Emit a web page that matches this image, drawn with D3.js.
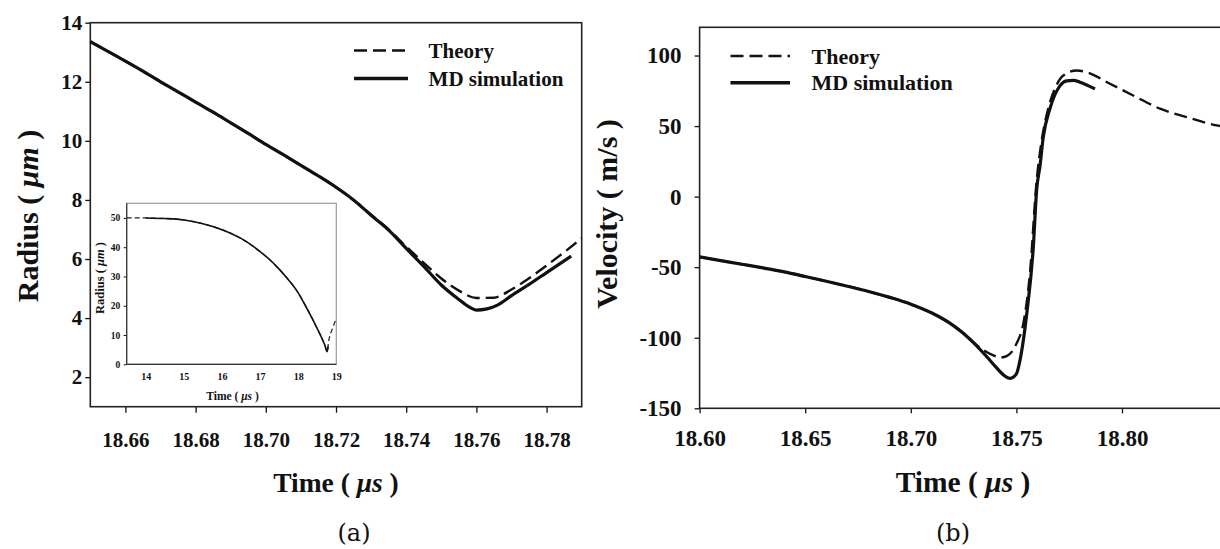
<!DOCTYPE html>
<html><head><meta charset="utf-8">
<script src="https://cdn.jsdelivr.net/npm/d3@7"></script>
<style>
html,body{margin:0;padding:0;background:#fff;overflow:hidden}
svg{display:block}
</style></head><body>
<svg id="fig" width="1220" height="549"></svg>
<script>
// Bubble collapse: (a) radius and (b) wall velocity against time,
// theory (dashed) versus molecular-dynamics simulation (solid).

// ---------- (a) radius near the minimum ----------
const radiusTimeTicks = [18.66, 18.68, 18.70, 18.72, 18.74, 18.76, 18.78];
const radiusTicks = [2, 4, 6, 8, 10, 12, 14];
const radiusMD = [
  [18.650, 13.36], [18.655, 13.03], [18.660, 12.70], [18.665, 12.36], [18.670, 12.00],
  [18.675, 11.66], [18.680, 11.31], [18.685, 10.97], [18.690, 10.61], [18.695, 10.25],
  [18.700, 9.88], [18.705, 9.53], [18.710, 9.17], [18.715, 8.81], [18.720, 8.43],
  [18.725, 8.00], [18.730, 7.48], [18.735, 6.98], [18.740, 6.36], [18.745, 5.75],
  [18.750, 5.12], [18.755, 4.63], [18.758, 4.37], [18.760, 4.27], [18.763, 4.31],
  [18.766, 4.44], [18.770, 4.76], [18.775, 5.14], [18.780, 5.54], [18.787, 6.10]
];
const radiusTheory = [
  [18.650, 13.36], [18.660, 12.70], [18.670, 12.00], [18.680, 11.31], [18.690, 10.61],
  [18.700, 9.88], [18.710, 9.17], [18.720, 8.43], [18.725, 8.00], [18.730, 7.50],
  [18.735, 7.00], [18.740, 6.42], [18.745, 5.87], [18.750, 5.34], [18.755, 4.93],
  [18.760, 4.68], [18.765, 4.69], [18.770, 4.97], [18.775, 5.35], [18.780, 5.78],
  [18.785, 6.23], [18.790, 6.70]
];

// ---------- inset: whole collapse ----------
const insetTimeTicks = [14, 15, 16, 17, 18, 19];
const insetRadiusTicks = [0, 10, 20, 30, 40, 50];
const insetMD = [
  [14.0, 50.0], [14.5, 49.8], [15.0, 49.3], [15.5, 48.0], [16.0, 46.0], [16.5, 43.0],
  [16.85, 40.0], [17.0, 38.5], [17.25, 35.8], [17.5, 32.5], [17.67, 30.0], [17.9, 26.3],
  [18.0, 24.4], [18.19, 20.0], [18.4, 14.8], [18.59, 9.8], [18.7, 6.5], [18.76, 4.3],
  [18.787, 6.1]
];
const insetTheory = [
  [13.5, 50.0], [14.0, 50.0], [14.5, 49.8], [15.0, 49.3], [15.5, 48.0], [16.0, 46.0],
  [16.5, 43.0], [17.0, 38.5], [17.5, 32.5], [18.0, 24.4], [18.4, 14.8], [18.7, 6.5],
  [18.76, 4.6], [18.8, 8.0], [18.9, 12.2], [19.0, 15.7]
];

// ---------- (b) velocity ----------
const velocityTimeTicks = [18.60, 18.65, 18.70, 18.75, 18.80];
const velocityTicks = [-150, -100, -50, 0, 50, 100];
const velocityMD = [
  [18.600, -42.7], [18.610, -45.3], [18.620, -47.9], [18.630, -50.5], [18.640, -53.3],
  [18.650, -56.6], [18.660, -60.0], [18.670, -63.5], [18.680, -67.2], [18.690, -71.4],
  [18.700, -76.2], [18.710, -82.5], [18.720, -91.2], [18.725, -97.0], [18.730, -104.0],
  [18.736, -113.5], [18.740, -120.3], [18.744, -126.5], [18.747, -128.8], [18.750, -125.6],
  [18.7517, -116.0], [18.7549, -83.0], [18.758, -36.0], [18.7596, 5.0], [18.7612, 22.0],
  [18.7627, 42.0], [18.7659, 62.5], [18.7706, 78.5], [18.7738, 82.0], [18.777, 82.4],
  [18.7801, 81.1], [18.7872, 76.4]
];
const velocityTheory = [
  [18.600, -42.7], [18.620, -47.9], [18.640, -53.3], [18.660, -60.0], [18.680, -67.2],
  [18.700, -76.2], [18.710, -82.5], [18.720, -91.2], [18.7249, -96.8], [18.7312, -105.2],
  [18.7391, -112.5], [18.7425, -114.0], [18.7454, -113.0], [18.7501, -104.0],
  [18.7533, -89.9], [18.7564, -54.5], [18.7596, 11.5], [18.762, 40.0], [18.765, 62.0],
  [18.769, 79.0], [18.7722, 85.8], [18.7786, 89.4], [18.7833, 88.2], [18.7943, 80.0],
  [18.8053, 71.7], [18.818, 62.3], [18.8306, 56.3], [18.8448, 50.5], [18.850, 49.0]
];

const seriesNames = ["Theory", "MD simulation"];

const serif = "'Liberation Serif','Times New Roman',serif";
const ink = "#111";
const dashPattern = "13,6";
const svg = d3.select("#fig");

function styleAxis(g, size, lineWidth) {
  g.select(".domain").remove();
  g.selectAll(".tick line").attr("stroke", ink).attr("stroke-width", lineWidth);
  g.selectAll(".tick text")
    .attr("font-family", serif).attr("font-weight", "bold")
    .attr("font-size", size).attr("fill", ink);
}

function timeTitle(g, x, y, size) {
  const t = g.append("text").attr("x", x).attr("y", y)
    .attr("text-anchor", "middle").attr("font-family", serif)
    .attr("font-weight", "bold").attr("font-size", size).attr("fill", ink);
  t.append("tspan").text("Time ( ");
  t.append("tspan").attr("font-style", "italic").text("\u03bcs");
  t.append("tspan").text(" )");
  return t;
}

function verticalTitle(g, x, y, size, parts) {
  const t = g.append("text")
    .attr("transform", `translate(${x},${y}) rotate(-90)`)
    .attr("text-anchor", "middle").attr("font-family", serif)
    .attr("font-weight", "bold").attr("font-size", size).attr("fill", ink);
  parts.forEach(p => {
    const s = t.append("tspan").text(p.text);
    if (p.italic) s.attr("font-style", "italic");
  });
  return t;
}

function legend(g, x0, x1, xText, yTheory, yMD, size) {
  g.append("line").attr("x1", x0).attr("x2", x1).attr("y1", yTheory).attr("y2", yTheory)
    .attr("stroke", ink).attr("stroke-width", 2.4).attr("stroke-dasharray", dashPattern);
  g.append("line").attr("x1", x0).attr("x2", x1).attr("y1", yMD).attr("y2", yMD)
    .attr("stroke", ink).attr("stroke-width", 3.6);
  [yTheory, yMD].forEach((yy, i) => {
    g.append("text").attr("x", xText).attr("y", yy + 7.5)
      .attr("font-family", serif).attr("font-weight", "bold")
      .attr("font-size", size).attr("fill", ink).text(seriesNames[i]);
  });
}

// ================= panel (a) =================
const A = { left: 90.3, right: 581.7, top: 22.7, bottom: 406.7 };
const xA = d3.scaleLinear().domain([18.65, 18.79]).range([A.left, A.right]);
const yA = d3.scaleLinear().domain([1, 14]).range([A.bottom, A.top]);
const gA = svg.append("g");

gA.append("g").attr("transform", `translate(${A.left},0)`)
  .call(d3.axisLeft(yA).tickValues(radiusTicks).tickSize(5).tickPadding(3).tickFormat(d3.format("d")))
  .call(g => styleAxis(g, 21, 1.3));
gA.append("g").attr("transform", `translate(0,${A.bottom})`)
  .call(d3.axisBottom(xA).tickValues(radiusTimeTicks).tickSize(6).tickPadding(19).tickFormat(d3.format(".2f")))
  .call(g => styleAxis(g, 21, 1.3));

gA.append("rect").attr("x", A.left).attr("y", A.top)
  .attr("width", A.right - A.left).attr("height", A.bottom - A.top)
  .attr("fill", "none").attr("stroke", "#222").attr("stroke-width", 1.6);

const lineA = d3.line().x(d => xA(d[0])).y(d => yA(d[1])).curve(d3.curveMonotoneX);
gA.append("path").datum(radiusTheory).attr("d", lineA)
  .attr("fill", "none").attr("stroke", ink).attr("stroke-width", 2.4)
  .attr("stroke-dasharray", dashPattern);
gA.append("path").datum(radiusMD).attr("d", lineA)
  .attr("fill", "none").attr("stroke", ink).attr("stroke-width", 3.2);

legend(gA, 354, 408, 428.6, 50.5, 78.5, 21);

timeTitle(gA, 336, 491.5, 27.5);
verticalTitle(gA, 37.5, 216, 30, [{ text: "Radius ( " }, { text: "\u03bcm", italic: true }, { text: " )" }]);

// ----- inset -----
const I = { left: 126.7, right: 336.3, top: 203.3, bottom: 364.3 };
const xI = d3.scaleLinear().domain([13.5, 19]).range([I.left, I.right]);
const yI = d3.scaleLinear().domain([0, 55]).range([I.bottom, I.top]);
const gI = gA.append("g");
gI.append("rect").attr("x", I.left).attr("y", I.top)
  .attr("width", I.right - I.left).attr("height", I.bottom - I.top)
  .attr("fill", "#fff").attr("stroke", "#9a9a9a").attr("stroke-width", 1.2);
gI.append("g").attr("transform", `translate(${I.left},0)`)
  .call(d3.axisLeft(yI).tickValues(insetRadiusTicks).tickSize(3).tickPadding(3.5).tickFormat(d3.format("d")))
  .call(g => styleAxis(g, 9.5, 1));
gI.append("g").attr("transform", `translate(0,${I.bottom})`)
  .call(d3.axisBottom(xI).tickValues(insetTimeTicks).tickSize(0).tickPadding(9).tickFormat(d3.format("d")))
  .call(g => styleAxis(g, 10, 1));
gI.append("line").attr("x1", I.left).attr("x2", I.left).attr("y1", I.top).attr("y2", I.bottom)
  .attr("stroke", "#333").attr("stroke-width", 1.2);
gI.append("line").attr("x1", I.left).attr("x2", I.right).attr("y1", I.bottom).attr("y2", I.bottom)
  .attr("stroke", "#333").attr("stroke-width", 1.2);

const lineI = d3.line().x(d => xI(d[0])).y(d => yI(d[1])).curve(d3.curveMonotoneX);
gI.append("path").datum(insetTheory).attr("d", lineI)
  .attr("fill", "none").attr("stroke", "#222").attr("stroke-width", 1.2)
  .attr("stroke-dasharray", "5,3");
gI.append("path").datum(insetMD).attr("d", lineI)
  .attr("fill", "none").attr("stroke", ink).attr("stroke-width", 1.6);

timeTitle(gI, 232.5, 399.5, 11.5);
verticalTitle(gI, 104, 278, 12.5, [{ text: "Radius ( " }, { text: "\u03bcm", italic: true }, { text: " )" }]);

// ================= panel (b) =================
const B = { left: 699.6, right: 1227.6, top: 27.3, bottom: 408.3 };
const xB = d3.scaleLinear().domain([18.60, 18.85]).range([B.left, B.right]);
const yB = d3.scaleLinear().domain([-150, 120]).range([B.bottom, B.top]);
const gB = svg.append("g");

gB.append("g").attr("transform", `translate(${B.left},0)`)
  .call(d3.axisLeft(yB).tickValues(velocityTicks).tickSize(5).tickPadding(13).tickFormat(d3.format("d")))
  .call(g => styleAxis(g, 23, 1.3));
gB.selectAll(".tick text").filter(d => d < 0).text(d => "-" + Math.abs(d));
gB.append("g").attr("transform", `translate(0,${B.bottom})`)
  .call(d3.axisBottom(xB).tickValues(velocityTimeTicks).tickSize(5).tickPadding(16.5).tickFormat(d3.format(".2f")))
  .call(g => styleAxis(g, 23, 1.3));

gB.append("rect").attr("x", B.left).attr("y", B.top)
  .attr("width", B.right - B.left).attr("height", B.bottom - B.top)
  .attr("fill", "none").attr("stroke", "#222").attr("stroke-width", 1.6);

const lineB = d3.line().x(d => xB(d[0])).y(d => yB(d[1])).curve(d3.curveMonotoneX);
gB.append("path").datum(velocityTheory).attr("d", lineB)
  .attr("fill", "none").attr("stroke", ink).attr("stroke-width", 2.4)
  .attr("stroke-dasharray", dashPattern);
gB.append("path").datum(velocityMD).attr("d", lineB)
  .attr("fill", "none").attr("stroke", ink).attr("stroke-width", 3.2);

legend(gB, 730.5, 790, 811.5, 56, 82.7, 22);

timeTitle(gB, 963, 491.5, 29.5);
verticalTitle(gB, 617, 214, 30, [{ text: "Velocity ( m/s )" }]);

// ---------- panel letters ----------
[["(a)", 354], ["(b)", 953]].forEach(([label, x]) => {
  svg.append("text").attr("x", x).attr("y", 541).attr("text-anchor", "middle")
    .attr("font-family", "'DejaVu Serif',serif").attr("font-size", 24)
    .attr("fill", "#111").text(label);
});
</script>
</body></html>
